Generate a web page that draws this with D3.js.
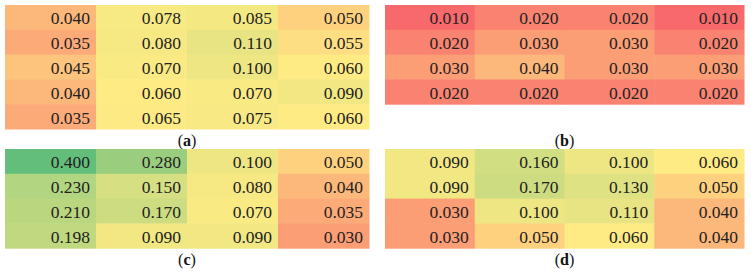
<!DOCTYPE html>
<html>
<head>
<meta charset="utf-8">
<script src="https://cdn.jsdelivr.net/npm/d3@7"></script>
<style>
  body { margin: 0; background: #fff; }
  svg { display: block; }
  .cell-text { font-family: "Liberation Serif", "DejaVu Serif", serif; font-size: 17.5px; fill: #222; }
  .caption { font-family: "Liberation Serif", "DejaVu Serif", serif; font-size: 16px; fill: #111; }
</style>
</head>
<body>
<svg class="chart"></svg>
<script>
// values, row by row
const panelA = [
  [0.040, 0.078, 0.085, 0.050],
  [0.035, 0.080, 0.110, 0.055],
  [0.045, 0.070, 0.100, 0.060],
  [0.040, 0.060, 0.070, 0.090],
  [0.035, 0.065, 0.075, 0.060]
]
const panelB = [
  [0.010, 0.020, 0.020, 0.010],
  [0.020, 0.030, 0.030, 0.020],
  [0.030, 0.040, 0.030, 0.030],
  [0.020, 0.020, 0.020, 0.020]
]
const panelC = [
  [0.400, 0.280, 0.100, 0.050],
  [0.230, 0.150, 0.080, 0.040],
  [0.210, 0.170, 0.070, 0.035],
  [0.198, 0.090, 0.090, 0.030]
]
const panelD = [
  [0.090, 0.160, 0.100, 0.060],
  [0.090, 0.170, 0.130, 0.050],
  [0.030, 0.100, 0.110, 0.040],
  [0.030, 0.050, 0.060, 0.040]
]
const captions = ["a", "b", "c", "d"]

var W = 755, H = 272
var svg = d3.select(".chart").attr("width", W).attr("height", H)

// one colour scale over all four tables (red - yellow - green)
var all = [].concat(...panelA, ...panelB, ...panelC, ...panelD)
var color = d3.scaleLinear()
    .domain([d3.min(all), d3.median(all), d3.max(all)])
    .range(["#F8696B", "#FFEB84", "#63BE7B"])

var fmt = d3.format(".3f")

// where each table sits
var panels = [
  { data: panelA, x0: 5,   x1: 369, y0: 5,   rowH: 24.8, capY: 146 },
  { data: panelB, x0: 385, x1: 744, y0: 5,   rowH: 24.8, capY: 146 },
  { data: panelC, x0: 5,   x1: 369, y0: 149, rowH: 24.8, capY: 265 },
  { data: panelD, x0: 385, x1: 744, y0: 149, rowH: 24.8, capY: 265 }
]

panels.forEach(function (p, i) {
    var nRows = p.data.length
    var nCols = p.data[0].length

    var x = d3.scaleBand()
        .domain(d3.range(nCols))
        .range([p.x0, p.x1])
    var y = d3.scaleBand()
        .domain(d3.range(nRows))
        .range([p.y0, p.y0 + nRows * p.rowH])

    var g = svg.append("g").attr("class", "panel-" + captions[i])

    var cells = []
    p.data.forEach(function (row, r) {
        row.forEach(function (v, c) { cells.push({ r: r, c: c, v: v }) })
    })

    g.selectAll("rect")
        .data(cells)
        .enter()
        .append("rect")
        .attr("x", d => x(d.c))
        .attr("y", d => y(d.r))
        .attr("width", x.bandwidth() + 0.5)
        .attr("height", y.bandwidth() + 0.5)
        .attr("fill", d => color(d.v))

    g.selectAll("text")
        .data(cells)
        .enter()
        .append("text")
        .attr("class", "cell-text")
        .attr("x", d => x(d.c) + x.bandwidth() - 6)
        .attr("y", d => y(d.r) + y.bandwidth() / 2 + 7)
        .attr("text-anchor", "end")
        .text(d => fmt(d.v))

    var cap = svg.append("text")
        .attr("class", "caption")
        .attr("x", (p.x0 + p.x1) / 2)
        .attr("y", p.capY)
        .attr("text-anchor", "middle")
    cap.append("tspan").text("(")
    cap.append("tspan").attr("font-weight", "bold").text(captions[i])
    cap.append("tspan").text(")")
})
</script>
</body>
</html>
